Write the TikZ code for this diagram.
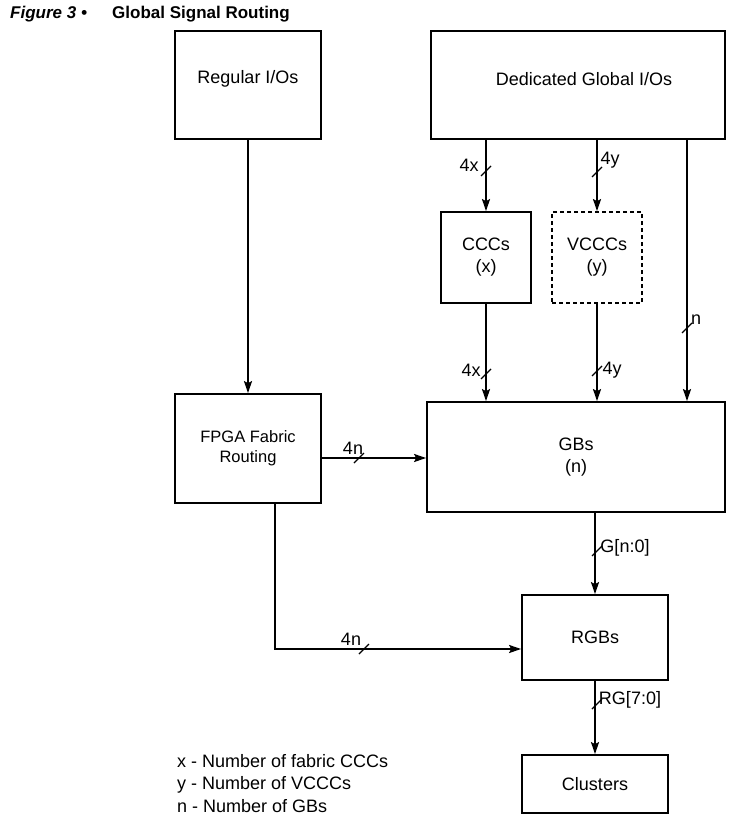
\documentclass[tikz,border=0pt]{standalone}
\usepackage{fontspec}
\setmainfont{Liberation Sans}
\usetikzlibrary{arrows.meta,calc}
\begin{document}
\begin{tikzpicture}[x=1pt,y=-1pt,
  box/.style={draw,line width=1.8pt,inner sep=0pt,align=center,font=\fontsize{18}{22}\selectfont},
  arr/.style={line width=1.8pt,-{Stealth[length=12pt,width=8pt,inset=2pt]}},
  lbl/.style={inner sep=0pt,font=\fontsize{18}{20}\selectfont},
  busslash/.pic={\draw[line width=1.2pt] (-5,5) -- (5,-5);}]
\useasboundingbox (0,0) rectangle (742,827);
% title
\node[anchor=base west,inner sep=0pt,font=\fontsize{17}{20}\selectfont\bfseries\itshape] (t1) at (10,18) {Figure 3 •};
\node[anchor=base west,inner sep=0pt,font=\fontsize{17}{20}\selectfont\bfseries] (t2) at (112,18) {Global Signal Routing};
% boxes
\node[box,minimum width=146pt,minimum height=108pt] (reg) at (248,85) {};
\node[box,minimum width=294pt,minimum height=108pt] (ded) at (578,85) {};
\node[inner sep=0pt,font=\fontsize{18}{22}\selectfont] (regt) at (248,79) {Regular I/Os};
\node[inner sep=0pt,font=\fontsize{18}{22}\selectfont] (dedt) at (584,79) {Dedicated Global I/Os};
\node[box,minimum width=90pt,minimum height=91pt] (ccc) at (486,257.5) {CCCs\\(x)};
\node[box,dashed,dash pattern=on 4pt off 3pt,minimum width=90pt,minimum height=91pt] (vccc) at (597,257.5) {VCCCs\\(y)};
\node[box,minimum width=146pt,minimum height=109pt,font=\fontsize{16.5}{20}\selectfont] (fpga) at (248,448.5) {FPGA Fabric\\Routing};
\node[box,minimum width=298pt,minimum height=110pt] (gbs) at (576,457) {GBs\\(n)};
\node[box,minimum width=146pt,minimum height=85pt] (rgb) at (595,637.5) {RGBs};
\node[box,minimum width=146pt,minimum height=58pt] (clu) at (595,784) {Clusters};
\coordinate (nx) at (687,0);
\coordinate (fx) at (275,0);
\coordinate (corner) at (275,649);
% connectors
\draw[arr] (reg.south) -- (fpga.north);
\draw[arr] (ccc.north |- ded.south) -- (ccc.north);
\draw[arr] (vccc.north |- ded.south) -- (vccc.north);
\draw[arr] (ded.south -| nx) -- (gbs.north -| nx);
\draw[arr] (ccc.south) -- (ccc.south |- gbs.north);
\draw[arr] (vccc.south) -- (vccc.south |- gbs.north);
\draw[arr] (fpga.east |- 0,458) -- (gbs.west |- 0,458);
\draw[arr] (rgb.north |- gbs.south) -- (rgb.north);
\draw[arr] (fpga.south -| fx) -- (corner) -- (rgb.west |- corner);
\draw[arr] (rgb.south) -- (clu.north);
% bus slashes
\pic at (486,171) {busslash};
\pic at (597,172) {busslash};
\pic at (687,328) {busslash};
\pic at (486,374) {busslash};
\pic at (597,371) {busslash};
\pic at (359,458) {busslash};
\pic at (597,551) {busslash};
\pic at (364,649) {busslash};
\pic at (597,704) {busslash};
% labels
\node[lbl] (l1) at (469,165) {4x};
\node[lbl] (l2) at (610,160) {4y};
\node[lbl] (l3) at (696,320) {n};
\node[lbl] (l4) at (471,370) {4x};
\node[lbl] (l5) at (612,370) {4y};
\node[lbl] (l6) at (353,448) {4n};
\node[lbl] (l7) at (625,548) {G[n:0]};
\node[lbl] (l8) at (351,639) {4n};
\node[lbl] (l9) at (630,700) {RG[7:0]};
% legend
\node[anchor=north west,inner sep=0pt,align=left,font=\fontsize{18}{22.5}\selectfont] (leg) at (177,754) {x - Number of fabric CCCs\\y - Number of VCCCs\\n - Number of GBs};
\end{tikzpicture}
\end{document}
